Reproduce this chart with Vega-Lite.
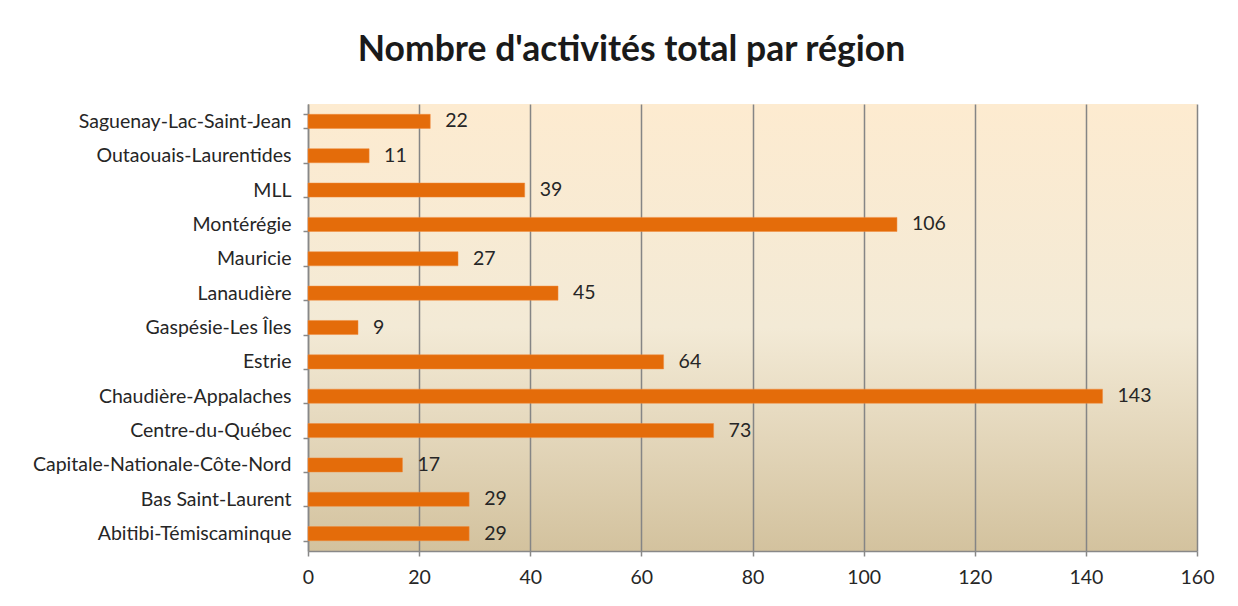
{
  "$schema": "https://vega.github.io/schema/vega-lite/v6.json",
  "autosize": {"type": "none"},
  "width": 889,
  "height": 447,
  "padding": {"left": 308, "top": 104, "right": 41, "bottom": 55},
  "background": "#ffffff",
  "title": {
    "text": "Nombre d'activités total par région",
    "font": "Lato",
    "fontSize": 35.5,
    "fontWeight": "bold",
    "color": "#1a1a1a",
    "anchor": "middle",
    "dx": -121,
    "offset": 26
  },
  "config": {
    "view": {
      "stroke": null,
      "fill": {
        "gradient": "linear",
        "x1": 0, "y1": 0, "x2": 0, "y2": 1,
        "stops": [
          {"offset": 0, "color": "#FDEBD0"},
          {"offset": 0.5, "color": "#F3EAD6"},
          {"offset": 1, "color": "#D3C29E"}
        ]
      }
    },
    "font": "Lato"
  },
  "data": {
    "values": [
      {"region": "Saguenay-Lac-Saint-Jean", "n": 22},
      {"region": "Outaouais-Laurentides", "n": 11},
      {"region": "MLL", "n": 39},
      {"region": "Montérégie", "n": 106},
      {"region": "Mauricie", "n": 27},
      {"region": "Lanaudière", "n": 45},
      {"region": "Gaspésie-Les Îles", "n": 9},
      {"region": "Estrie", "n": 64},
      {"region": "Chaudière-Appalaches", "n": 143},
      {"region": "Centre-du-Québec", "n": 73},
      {"region": "Capitale-Nationale-Côte-Nord", "n": 17},
      {"region": "Bas Saint-Laurent", "n": 29},
      {"region": "Abitibi-Témiscaminque", "n": 29}
    ]
  },
  "encoding": {
    "y": {
      "field": "region",
      "type": "nominal",
      "sort": null,
      "scale": {"paddingInner": 0.59, "paddingOuter": 0.3},
      "axis": {
        "title": null,
        "domainColor": "#888888",
        "domainWidth": 1.5,
        "tickColor": "#888888",
        "tickWidth": 1.5,
        "tickSize": 5,
        "tickBand": "extent",
        "labelPadding": 12,
        "labelFont": "Lato",
        "labelFontSize": 19.5,
        "labelColor": "#262626",
        "labelLimit": 400
      }
    },
    "x": {
      "field": "n",
      "type": "quantitative",
      "scale": {"domain": [0, 160], "nice": false},
      "axis": {
        "title": null,
        "values": [0, 20, 40, 60, 80, 100, 120, 140, 160],
        "grid": true,
        "gridColor": "#858585",
        "gridWidth": 1.5,
        "domainColor": "#888888",
        "domainWidth": 1.5,
        "tickColor": "#888888",
        "tickWidth": 1.5,
        "tickSize": 5,
        "labelFlush": false,
        "labelPadding": 12,
        "labelFont": "Lato",
        "labelFontSize": 19.5,
        "labelColor": "#262626"
      }
    }
  },
  "layer": [
    {"mark": {"type": "bar", "color": "#E46C0A", "stroke": "#F08A3C", "strokeWidth": 0.5}},
    {
      "mark": {"type": "text", "align": "left", "baseline": "middle", "dx": 15, "font": "Lato", "fontSize": 19.5, "color": "#262626"},
      "encoding": {"text": {"field": "n", "type": "quantitative"}}
    }
  ]
}
